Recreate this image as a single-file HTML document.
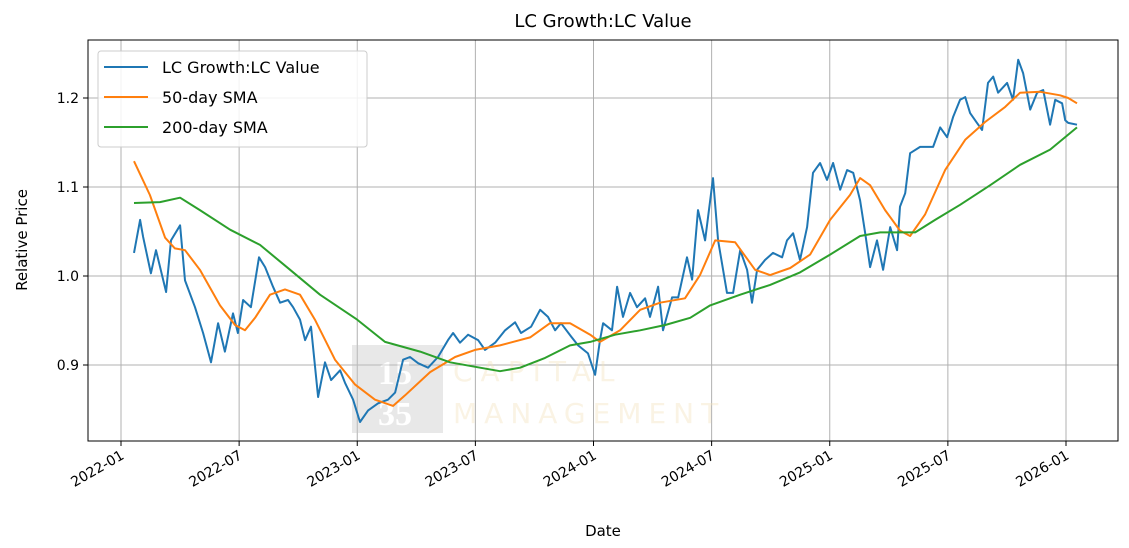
<!DOCTYPE html>
<html><head><meta charset="utf-8">
<style>
html,body{margin:0;padding:0;background:#fff;}
svg{display:block;font-family:"DejaVu Sans","Liberation Sans",sans-serif;}
</style></head>
<body>
<svg id="chart" width="1129" height="548" viewBox="0 0 1129 548">
  <text x="603" y="27" font-size="18" text-anchor="middle" fill="#000">LC Growth:LC Value</text>
  <g id="grid"></g>
  <g id="watermark" opacity="0.4">
    <rect x="352" y="345" width="91" height="88" fill="#c8c8c8"/>
    <text x="378" y="384" font-family="Liberation Serif,serif" font-size="34" font-weight="bold" fill="#fff">15</text>
    <text x="378" y="425" font-family="Liberation Serif,serif" font-size="34" font-weight="bold" fill="#fff">35</text>
    <text x="453" y="381" font-size="28" letter-spacing="8" fill="#f3e2bd">CAPITAL</text>
    <text x="453" y="423" font-size="28" letter-spacing="7" fill="#f3e2bd">MANAGEMENT</text>
  </g>
  <g id="series"></g>
  <rect x="88" y="40" width="1030" height="401" fill="none" stroke="#000" stroke-width="1"/>
  <g id="axes"></g>
  <text transform="translate(27,240) rotate(-90)" font-size="15" text-anchor="middle">Relative Price</text>
  <text x="603" y="536" font-size="15" text-anchor="middle">Date</text>
  <g>
    <rect x="98" y="51" width="269" height="96" rx="3" fill="#fff" fill-opacity="0.85" stroke="#ccc"/>
    <line x1="104" y1="67" x2="148" y2="67" stroke="#1f77b4" stroke-width="2"/>
    <text x="162" y="73" font-size="16">LC Growth:LC Value</text>
    <line x1="104" y1="97" x2="148" y2="97" stroke="#ff7f0e" stroke-width="2"/>
    <text x="162" y="103" font-size="16">50-day SMA</text>
    <line x1="104" y1="127" x2="148" y2="127" stroke="#2ca02c" stroke-width="2"/>
    <text x="162" y="133" font-size="16">200-day SMA</text>
  </g>
</svg>
<script>
// months since 2022-01 and values
const blueMonths=[0.66,0.97,1.12,1.52,1.78,2.29,2.54,3.0,3.25,3.76,4.17,4.57,4.93,5.28,5.69,5.94,6.2,6.6,7.01,7.32,7.72,8.08,8.48,8.74,9.09,9.35,9.65,10.01,10.36,10.67,11.13,11.38,11.79,12.14,12.55,13.06,13.56,13.92,14.33,14.68,15.09,15.6,16.1,16.61,16.87,17.22,17.63,18.14,18.49,19.0,19.51,20.02,20.32,20.83,21.29,21.69,22.05,22.35,22.86,23.22,23.72,24.08,24.33,24.49,24.94,25.2,25.5,25.86,26.21,26.62,26.87,27.28,27.53,27.99,28.3,28.75,29.01,29.31,29.67,30.07,30.33,30.78,31.09,31.45,31.8,32.05,32.31,32.71,33.12,33.58,33.83,34.14,34.49,34.85,35.15,35.51,35.86,36.17,36.53,36.88,37.19,37.54,37.8,38.05,38.4,38.71,39.07,39.42,39.57,39.83,40.08,40.59,41.25,41.61,41.96,42.27,42.62,42.88,43.13,43.48,43.74,44.04,44.3,44.55,45.01,45.31,45.57,45.82,46.18,46.53,46.84,47.19,47.45,47.8,47.96,48.11,48.56];
const blueValues=[1.026,1.063,1.044,1.003,1.029,0.982,1.040,1.057,0.995,0.965,0.936,0.903,0.947,0.915,0.958,0.936,0.973,0.965,1.021,1.010,0.988,0.970,0.973,0.965,0.951,0.928,0.943,0.864,0.903,0.883,0.894,0.880,0.861,0.836,0.849,0.857,0.861,0.869,0.906,0.909,0.902,0.897,0.909,0.928,0.936,0.925,0.934,0.928,0.917,0.925,0.939,0.948,0.936,0.943,0.962,0.954,0.939,0.947,0.932,0.922,0.913,0.889,0.928,0.947,0.939,0.988,0.954,0.981,0.965,0.975,0.954,0.988,0.939,0.976,0.976,1.021,0.996,1.074,1.040,1.110,1.040,0.981,0.981,1.029,1.007,0.970,1.007,1.018,1.026,1.021,1.040,1.048,1.018,1.055,1.116,1.127,1.108,1.127,1.097,1.119,1.116,1.085,1.048,1.010,1.040,1.007,1.055,1.029,1.078,1.093,1.138,1.145,1.145,1.167,1.156,1.179,1.198,1.201,1.183,1.172,1.164,1.217,1.224,1.206,1.217,1.198,1.243,1.228,1.187,1.206,1.209,1.170,1.198,1.194,1.175,1.172,1.170];
const sma50Months=[0.66,1.47,2.24,2.74,3.25,4.01,5.03,5.79,6.3,6.81,7.57,8.33,9.09,9.85,10.87,11.89,12.9,13.82,14.43,15.7,16.97,17.98,19.25,20.78,21.79,22.81,23.83,24.33,25.35,26.37,27.38,28.65,29.41,30.18,31.19,32.21,32.97,33.99,35.0,36.02,37.03,37.54,38.05,38.81,39.57,40.08,40.84,41.86,42.88,43.89,44.91,45.67,46.69,47.7,48.11,48.56];
const sma50Values=[1.129,1.091,1.043,1.031,1.029,1.007,0.967,0.945,0.939,0.953,0.979,0.985,0.979,0.951,0.906,0.878,0.861,0.854,0.866,0.892,0.909,0.917,0.922,0.931,0.947,0.947,0.934,0.926,0.939,0.962,0.970,0.975,1.001,1.040,1.038,1.007,1.001,1.009,1.024,1.063,1.091,1.110,1.102,1.074,1.051,1.045,1.069,1.119,1.153,1.173,1.190,1.206,1.207,1.203,1.200,1.194];
const sma200Months=[0.66,1.98,3.0,4.01,5.54,7.06,8.59,10.11,11.99,13.41,15.19,16.71,18.24,19.25,20.27,21.54,22.81,23.83,25.1,26.37,27.64,28.91,29.92,31.45,32.97,34.49,36.02,37.54,38.56,39.57,40.34,41.35,42.62,44.15,45.67,47.19,48.56];
const sma200Values=[1.082,1.083,1.088,1.074,1.052,1.035,1.007,0.979,0.951,0.926,0.915,0.903,0.897,0.893,0.897,0.908,0.922,0.926,0.934,0.939,0.945,0.953,0.967,0.979,0.990,1.004,1.024,1.045,1.049,1.049,1.049,1.063,1.080,1.102,1.125,1.142,1.167];
const xTickMonths=[0,6,12,18,24,30,36,42,48];
const xTickLabels=["2022-01","2022-07","2023-01","2023-07","2024-01","2024-07","2025-01","2025-07","2026-01"];
const yTickValues=[0.9,1.0,1.1,1.2];
const yTickLabels=["0.9","1.0","1.1","1.2"];

const NS="http://www.w3.org/2000/svg";
function xs(m){return 121+m*(1066-121)/48;}
function ys(v){return 276-(v-1.0)*890;}
function mk(tag,attrs,parent){const e=document.createElementNS(NS,tag);for(const k in attrs)e.setAttribute(k,attrs[k]);parent.appendChild(e);return e;}
const grid=document.getElementById('grid'),axes=document.getElementById('axes'),series=document.getElementById('series');
xTickMonths.forEach((m,i)=>{
  const x=xs(m);
  const g=mk('line',{x1:x,y1:40,x2:x,y2:441,stroke:'#b0b0b0','stroke-width':1},grid);
  
  
  const t=mk('line',{x1:x,y1:441,x2:x,y2:446,stroke:'#000'},axes);
  
  
  const l=mk('text',{x:0,y:0,'font-size':14,'text-anchor':'end',transform:`translate(${x+4},${458}) rotate(-30)`},axes);
  l.textContent=xTickLabels[i];
  
  
});
yTickValues.forEach((v,i)=>{
  const y=ys(v);
  const g=mk('line',{x1:88,y1:y,x2:1118,y2:y,stroke:'#b0b0b0','stroke-width':1},grid);
  
  
  const t=mk('line',{x1:83,y1:y,x2:88,y2:y,stroke:'#000'},axes);
  
  
  const l=mk('text',{x:79,y:y+5,'font-size':14,'text-anchor':'end'},axes);
  l.textContent=yTickLabels[i];
  
  
});
function line(ms,vs,color,name){
  const d=ms.map((m,i)=>(i?'L':'M')+xs(m).toFixed(1)+','+ys(vs[i]).toFixed(1)).join('');
  const p=mk('path',{d:d,fill:'none',stroke:color,'stroke-width':2,'stroke-linejoin':'round'},series);
  
  
}
line(blueMonths,blueValues,'#1f77b4','ratio-line');
line(sma50Months,sma50Values,'#ff7f0e','sma50-line');
line(sma200Months,sma200Values,'#2ca02c','sma200-line');
</script>
</body></html>
